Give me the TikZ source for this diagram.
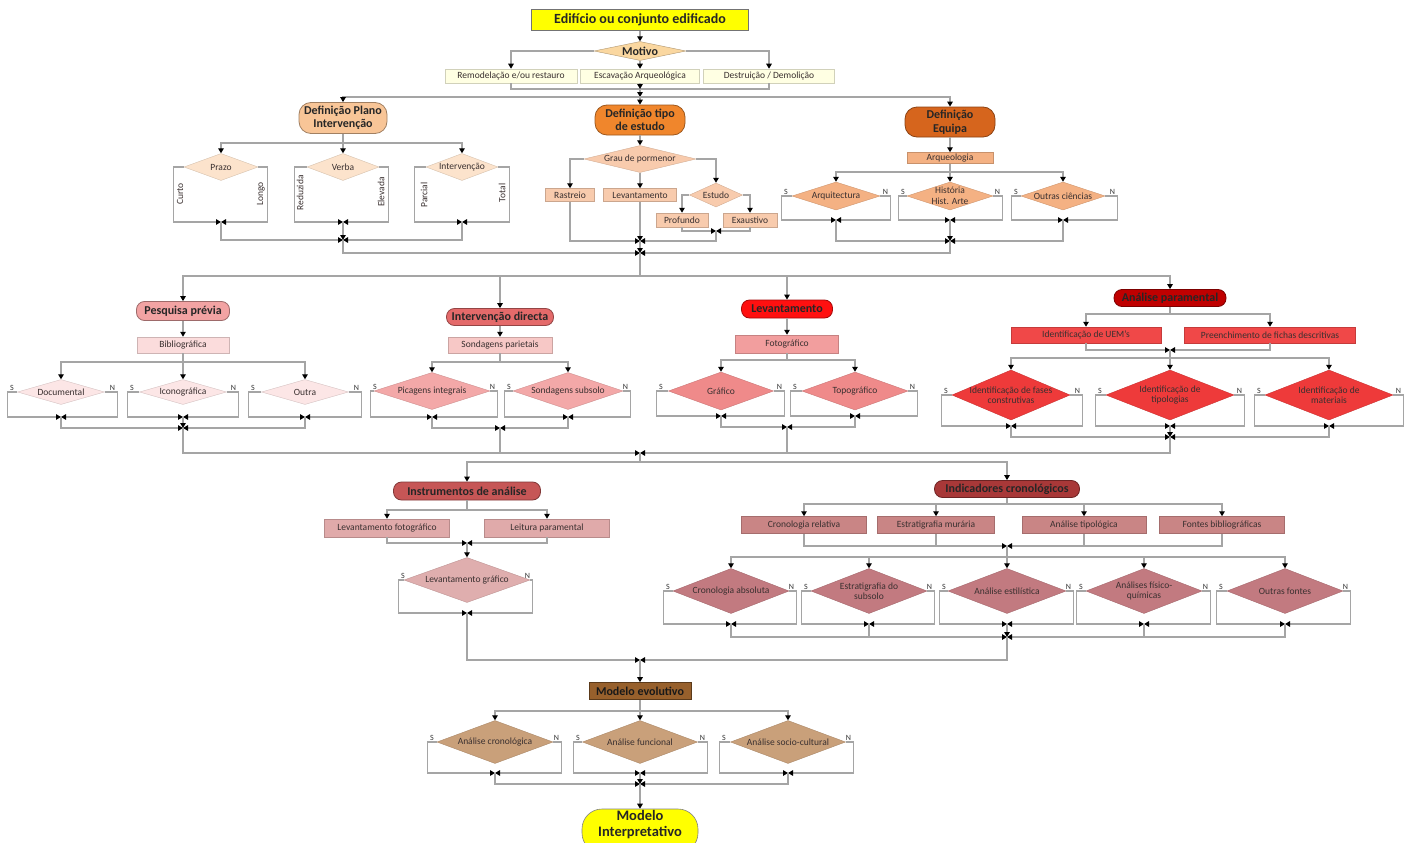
\documentclass[tikz,border=0pt]{standalone}
\usepackage{fontspec}
\setmainfont{Carlito}
\usetikzlibrary{arrows.meta,shapes.geometric,shapes.misc}
\definecolor{lc}{HTML}{A5A5A5}
\definecolor{tx}{HTML}{3A3030}
\definecolor{cYel}{HTML}{FFFF00}
\definecolor{cMot}{HTML}{FAD7A0}
\definecolor{cLY}{HTML}{FFFFE3}
\definecolor{cPla}{HTML}{F8C597}
\definecolor{cTip}{HTML}{F0862C}
\definecolor{cEqu}{HTML}{D6651D}
\definecolor{cPz}{HTML}{FCE3CC}
\definecolor{cGr}{HTML}{F8CBAD}
\definecolor{cArq}{HTML}{F4B183}
\definecolor{cPes}{HTML}{F2A3A3}
\definecolor{cBib}{HTML}{FBDCDC}
\definecolor{cDoc}{HTML}{FCE6E6}
\definecolor{cInt}{HTML}{E46A6A}
\definecolor{cSpa}{HTML}{F7C8C6}
\definecolor{cPic}{HTML}{F3A8A8}
\definecolor{cLev}{HTML}{FF1010}
\definecolor{cFot}{HTML}{F29E9E}
\definecolor{cGra}{HTML}{EF8A8A}
\definecolor{cAna}{HTML}{C00000}
\definecolor{cUem}{HTML}{F04848}
\definecolor{cFas}{HTML}{EE3A3A}
\definecolor{cIns}{HTML}{C65656}
\definecolor{cLf}{HTML}{E0AAAA}
\definecolor{cLg}{HTML}{DFAEAE}
\definecolor{cInd}{HTML}{A83838}
\definecolor{cCr}{HTML}{C98585}
\definecolor{cCa}{HTML}{C27A80}
\definecolor{cMe}{HTML}{97602C}
\definecolor{cAc}{HTML}{C9A07A}
\tikzset{
  ln/.style={draw=lc,line width=1.2pt},
  ar/.style={ln,-{Triangle[length=5pt,width=5.5pt,color=black]}},
  box/.style={rectangle,draw=#1!82!black,fill=#1,line width=0.5pt,inner sep=0.5pt,font=\fontsize{9.5pt}{11pt}\selectfont,text=tx},
  stad/.style={rectangle,rounded corners=8pt,draw=#1!65!black,fill=#1,line width=0.8pt,inner sep=0.5pt,font=\bfseries\fontsize{12pt}{13.5pt}\selectfont,text=black!85,align=center},
  dia/.style={diamond,draw=#1!85!black,fill=#1,line width=0.4pt,inner sep=0pt},
  dtx/.style={font=\fontsize{9.5pt}{10.5pt}\selectfont,text=tx,align=center,inner sep=0pt},
  snl/.style={font=\fontsize{8pt}{9pt}\selectfont,text=black!80,inner sep=0.5pt},
  rot/.style={font=\fontsize{9.5pt}{10pt}\selectfont,text=tx,rotate=90,inner sep=0pt},
}
\newcommand\dnode[7]{\node[dia=#6,minimum width=#4pt,minimum height=#5pt] (#1) at (#2,#3) {};\node[dtx] (#1-t) at (#1.center) {#7};}
\newcommand\frm[5]{\coordinate (#5) at (#1.center |- 0,#4);
  \draw[ar] (#1.west) -- ++(-#2,0) |- (#5);
  \draw[ar] (#1.east) -- ++(#3,0) |- (#5);}
\newcommand\SN[3]{\path (#1.west) ++(-#2+1.5,-1) node[snl,anchor=south west] (#1-s) {S};
  \path (#1.east) ++(#3-1.5,-1) node[snl,anchor=south east] (#1-n) {N};}
\begin{document}
\begin{tikzpicture}[x=1pt,y=-1pt]
\useasboundingbox (0,0) rectangle (1408,843);
\clip (0,0) rectangle (1408,843);
\fill[white] (0,0) rectangle (1408,843);
% ---------------- top
\node[rectangle,draw=black!55,fill=cYel,line width=0.6pt,minimum width=217pt,minimum height=21pt,inner sep=1pt,font=\bfseries\fontsize{14pt}{16pt}\selectfont,text=black!85] (T) at (640,20) {Edifício ou conjunto edificado};
\node[dia=cMot,minimum width=92pt,minimum height=19pt,draw=cMot!70!black] (M) at (640,51) {};
\node[font=\bfseries\fontsize{12pt}{13pt}\selectfont,text=black!85,inner sep=0pt] (M-t) at (M.center) {Motivo};
\node[box=cLY,minimum width=132pt,minimum height=14pt] (R1) at (511,76) {Remodelação e/ou restauro};
\node[box=cLY,minimum width=119pt,minimum height=14pt] (R2) at (640,76) {Escavação Arqueológica};
\node[box=cLY,minimum width=131pt,minimum height=14pt] (R3) at (769,76) {Destruição / Demolição};
\draw[ar] (T.south) -- (M.north);
\draw[ar] (M.west) -| (R1.north);
\draw[ar] (M.south) -- (R2.north);
\draw[ar] (M.east) -| (R3.north);
\coordinate (J1) at (640,89);
\coordinate (D1) at (640,97);
\draw[ln] (R1.south) |- (J1);
\draw[ln] (R3.south) |- (J1);
\draw[ar] (R2.south) -- (J1);
\draw[ar] (J1) -- (D1);
\node[stad=cPla,rounded corners=12pt,minimum width=88pt,minimum height=31pt] (plano) at (343,118) {Definição Plano\\Intervenção};
\node[stad=cTip,rounded corners=12pt,minimum width=90pt,minimum height=30pt] (tipo) at (640,120) {Definição tipo\\de estudo};
\node[stad=cEqu,rounded corners=12pt,minimum width=90pt,minimum height=30pt] (equipa) at (950,122) {Definição\\Equipa};
\draw[ar] (D1) -| (plano.north);
\draw[ar] (D1) -- (tipo.north);
\draw[ar] (D1) -| (equipa.north);
% ---------------- plano
\coordinate (P1) at (343,143);
\draw[ln] (plano.south) -- (P1);
\dnode{prazo}{221}{167}{74}{27}{cPz}{Prazo}
\dnode{verba}{343}{167}{72}{27}{cPz}{Verba}
\dnode{intv}{462}{167}{72}{27}{cPz}{Intervenção}
\draw[ar] (P1) -| (prazo.north);
\draw[ar] (P1) -- (verba.north);
\draw[ar] (P1) -| (intv.north);
\frm{prazo}{10}{9}{222}{pj1}
\frm{verba}{12}{9}{222}{pj2}
\frm{intv}{11}{11}{222}{pj3}
\node[rot] (lc1) at (180,194) {Curto};
\node[rot] (lc2) at (261,194) {Longo};
\node[rot] (lc3) at (300,193) {Reduzida};
\node[rot] (lc4) at (381,192) {Elevada};
\node[rot] (lc5) at (424,195) {Parcial};
\node[rot] (lc6) at (502,193) {Total};
\coordinate (pJ) at (343,240);
\draw[ar] (pj1) |- (pJ);
\draw[ar] (pj2) -- (pJ);
\draw[ar] (pj3) |- (pJ);
\coordinate (mJ) at (640,253);
\draw[ar] (pJ) |- (mJ);
% ---------------- tipo
\dnode{grau}{640}{159}{112}{27}{cGr}{Grau de pormenor}
\draw[ar] (tipo.south) -- (grau.north);
\node[box=cGr,minimum width=49pt,minimum height=13pt] (rast) at (570,195) {Rastreio};
\node[box=cGr,minimum width=73pt,minimum height=13pt] (levt) at (640,195) {Levantamento};
\dnode{estudo}{716}{195}{53}{24}{cGr}{Estudo}
\draw[ar] (grau.west) -| (rast.north);
\draw[ar] (grau.south) -- (levt.north);
\draw[ar] (grau.east) -| (estudo.north);
\node[box=cGr,minimum width=52pt,minimum height=14pt] (prof) at (682,220) {Profundo};
\node[box=cGr,minimum width=54pt,minimum height=14pt] (exau) at (750,220) {Exaustivo};
\draw[ar] (estudo.west) -| (prof.north);
\draw[ar] (estudo.east) -| (exau.north);
\coordinate (tj1) at (716,231);
\draw[ar] (prof.south) |- (tj1);
\draw[ar] (exau.south) |- (tj1);
\coordinate (tJ) at (640,241);
\draw[ar] (rast.south) |- (tJ);
\draw[ar] (levt.south) -- (tJ);
\draw[ar] (tj1) |- (tJ);
\draw[ar] (tJ) -- (mJ);
% ---------------- equipa
\node[box=cArq,minimum width=86pt,minimum height=11pt] (arq) at (950,158) {Arqueologia};
\draw[ar] (equipa.south) -- (arq.north);
\coordinate (E1) at (950,172);
\draw[ln] (arq.south) -- (E1);
\dnode{arquit}{836}{196}{88}{28}{cArq}{Arquitectura}
\dnode{hist}{950}{196}{86}{28}{cArq}{História\\Hist. Arte}
\dnode{outc}{1063}{196}{84}{28}{cArq}{Outras ciências}
\draw[ar] (E1) -| (arquit.north);
\draw[ar] (E1) -- (hist.north);
\draw[ar] (E1) -| (outc.north);
\frm{arquit}{10}{10}{220}{ej1}\SN{arquit}{10}{10}
\frm{hist}{8}{9}{220}{ej2}\SN{hist}{8}{9}
\frm{outc}{9}{12}{220}{ej3}\SN{outc}{9}{12}
\coordinate (eJ) at (950,241);
\draw[ar] (ej1) |- (eJ);
\draw[ar] (ej2) -- (eJ);
\draw[ar] (ej3) |- (eJ);
\draw[ar] (eJ) |- (mJ);
% ---------------- middle row
\coordinate (D2) at (640,276);
\draw[ln] (mJ) -- (D2);
\node[stad=cPes,minimum width=93pt,minimum height=19pt] (pesq) at (183,311) {Pesquisa prévia};
\node[stad=cInt,minimum width=107pt,minimum height=17pt] (intd) at (500,317) {Intervenção directa};
\node[stad=cLev,minimum width=91pt,minimum height=18pt] (levs) at (787,309) {Levantamento};
\node[stad=cAna,minimum width=112pt,minimum height=17pt] (anap) at (1170,298) {Análise paramental};
\draw[ar] (D2) -| (pesq.north);
\draw[ar] (D2) -| (intd.north);
\draw[ar] (D2) -| (levs.north);
\draw[ar] (D2) -| (anap.north);
% pesquisa
\node[box=cBib,minimum width=92pt,minimum height=16pt] (bibl) at (183,345) {Bibliográfica};
\draw[ar] (pesq.south) -- (bibl.north);
\coordinate (B1) at (183,362);
\draw[ln] (bibl.south) -- (B1);
\dnode{doc}{61}{392}{87}{25}{cDoc}{Documental}
\dnode{icon}{183}{392}{87}{25}{cDoc}{Iconográfica}
\dnode{outr}{305}{392}{87}{25}{cDoc}{Outra}
\draw[ar] (B1) -| (doc.north);
\draw[ar] (B1) -- (icon.north);
\draw[ar] (B1) -| (outr.north);
\frm{doc}{9.5}{12.5}{417}{bj1}\SN{doc}{9.5}{12.5}
\frm{icon}{11.5}{11.5}{417}{bj2}\SN{icon}{11.5}{11.5}
\frm{outr}{12.5}{12.5}{417}{bj3}\SN{outr}{12.5}{12.5}
\coordinate (bJ) at (183,428);
\draw[ar] (bj1) |- (bJ);
\draw[ar] (bj2) -- (bJ);
\draw[ar] (bj3) |- (bJ);
% intervencao
\node[box=cSpa,minimum width=104pt,minimum height=16pt] (spar) at (500,345) {Sondagens parietais};
\draw[ar] (intd.south) -- (spar.north);
\coordinate (I1) at (500,362);
\draw[ln] (spar.south) -- (I1);
\dnode{picag}{432}{391}{116}{37}{cPic}{Picagens integrais}
\dnode{ssub}{568}{391}{110}{37}{cPic}{Sondagens subsolo}
\draw[ar] (I1) -| (picag.north);
\draw[ar] (I1) -| (ssub.north);
\frm{picag}{3}{7}{417}{ij1}\SN{picag}{3}{7}
\frm{ssub}{8}{7}{417}{ij2}\SN{ssub}{8}{7}
\coordinate (iJ) at (500,428);
\draw[ar] (ij1) |- (iJ);
\draw[ar] (ij2) |- (iJ);
% levantamento
\node[box=cFot,minimum width=103pt,minimum height=18pt] (foto) at (787,344) {Fotográfico};
\draw[ar] (levs.south) -- (foto.north);
\coordinate (L1) at (787,360);
\draw[ln] (foto.south) -- (L1);
\dnode{graf}{721}{391}{105}{38}{cGra}{Gráfico}
\dnode{topo}{855}{391}{106}{38}{cGra}{Topográfico}
\draw[ar] (L1) -| (graf.north);
\draw[ar] (L1) -| (topo.north);
\frm{graf}{11.5}{10.5}{416}{lj1}\SN{graf}{11.5}{10.5}
\frm{topo}{11}{9}{416}{lj2}\SN{topo}{11}{9}
\coordinate (lJ) at (787,427);
\draw[ar] (lj1) |- (lJ);
\draw[ar] (lj2) |- (lJ);
% analise paramental
\coordinate (A1) at (1170,314);
\draw[ln] (anap.south) -- (A1);
\node[box=cUem,minimum width=150pt,minimum height=16pt] (uem) at (1086,335) {Identificação de UEM's};
\node[box=cUem,minimum width=171pt,minimum height=16pt] (fich) at (1270,335) {Preenchimento de fichas descritivas};
\draw[ar] (A1) -| (uem.north);
\draw[ar] (A1) -| (fich.north);
\coordinate (aj0) at (1170,350);
\draw[ar] (uem.south) |- (aj0);
\draw[ar] (fich.south) |- (aj0);
\coordinate (A2) at (1170,358);
\draw[ln] (aj0) -- (A2);
\dnode{fases}{1011}{395}{118}{50}{cFas}{Identificação de fases\\construtivas}
\dnode{tipol}{1170}{395}{128}{50}{cFas}{Identificação de\\tipologias}
\dnode{mater}{1329}{395}{128}{50}{cFas}{Identificação de\\materiais}
\draw[ar] (A2) -| (fases.north);
\draw[ar] (A2) -- (tipol.north);
\draw[ar] (A2) -| (mater.north);
\frm{fases}{10}{12}{426}{aj1}\SN{fases}{10}{12}
\frm{tipol}{10}{10}{426}{aj2}\SN{tipol}{10}{10}
\frm{mater}{10}{10}{426}{aj3}\SN{mater}{10}{10}
\coordinate (aJ) at (1170,437);
\draw[ar] (aj1) |- (aJ);
\draw[ar] (aj2) -- (aJ);
\draw[ar] (aj3) |- (aJ);
% join at cJ
\coordinate (cJ) at (640,453);
\draw[ar] (bJ) |- (cJ);
\draw[ln] (iJ) -- (iJ |- cJ);
\draw[ln] (lJ) -- (lJ |- cJ);
\draw[ar] (aJ) |- (cJ);
\coordinate (D3) at (640,462);
\draw[ln] (cJ) -- (D3);
% ---------------- instrumentos
\node[stad=cIns,minimum width=147pt,minimum height=18pt] (inst) at (467,491) {Instrumentos de análise};
\node[stad=cInd,minimum width=145pt,minimum height=17pt] (indc) at (1007,489) {Indicadores cronológicos};
\draw[ar] (D3) -| (inst.north);
\draw[ar] (D3) -| (indc.north);
\coordinate (N1) at (467,510);
\draw[ln] (inst.south) -- (N1);
\node[box=cLf,minimum width=125pt,minimum height=18pt] (lfot) at (387,528) {Levantamento fotográfico};
\node[box=cLf,minimum width=125pt,minimum height=18pt] (lpar) at (547,528) {Leitura paramental};
\draw[ar] (N1) -| (lfot.north);
\draw[ar] (N1) -| (lpar.north);
\coordinate (nj) at (467,543);
\draw[ar] (lfot.south) |- (nj);
\draw[ar] (lpar.south) |- (nj);
\dnode{lgra}{467}{580}{126}{45}{cLg}{Levantamento gráfico}
\draw[ar] (nj) -- (lgra.north);
\frm{lgra}{5}{2}{613}{nj2}\SN{lgra}{5}{2}
% ---------------- indicadores
\coordinate (K1) at (1007,504);
\draw[ln] (indc.south) -- (K1);
\node[box=cCr,minimum width=125pt,minimum height=17pt] (crel) at (804,525) {Cronologia relativa};
\node[box=cCr,minimum width=117pt,minimum height=17pt] (estm) at (936,525) {Estratigrafia murária};
\node[box=cCr,minimum width=124pt,minimum height=17pt] (anat) at (1084,525) {Análise tipológica};
\node[box=cCr,minimum width=125pt,minimum height=17pt] (font) at (1222,525) {Fontes bibliográficas};
\draw[ar] (K1) -| (crel.north);
\draw[ar] (K1) -| (estm.north);
\draw[ar] (K1) -| (anat.north);
\draw[ar] (K1) -| (font.north);
\coordinate (kj) at (1007,546);
\draw[ar] (crel.south) |- (kj);
\draw[ln] (estm.south) -- (estm.south |- kj);
\draw[ln] (anat.south) -- (anat.south |- kj);
\draw[ar] (font.south) |- (kj);
\coordinate (K2) at (1007,557);
\draw[ln] (kj) -- (K2);
\dnode{cabs}{731}{591}{116}{45}{cCa}{Cronologia absoluta}
\dnode{esub}{869}{591}{116}{45}{cCa}{Estratigrafia do\\subsolo}
\dnode{aest}{1007}{591}{118}{45}{cCa}{Análise estilística}
\dnode{afq}{1144}{591}{116}{45}{cCa}{Análises físico-\\químicas}
\dnode{outf}{1285}{591}{116}{45}{cCa}{Outras fontes}
\draw[ar] (K2) -| (cabs.north);
\draw[ar] (K2) -| (esub.north);
\draw[ar] (K2) -- (aest.north);
\draw[ar] (K2) -| (afq.north);
\draw[ar] (K2) -| (outf.north);
\frm{cabs}{9}{7}{624}{kj1}\SN{cabs}{9}{7}
\frm{esub}{9}{7}{624}{kj2}\SN{esub}{9}{7}
\frm{aest}{8}{7}{624}{kj3}\SN{aest}{8}{7}
\frm{afq}{9}{8}{624}{kj4}\SN{afq}{9}{8}
\frm{outf}{10}{7}{624}{kj5}\SN{outf}{10}{7}
\coordinate (kJ) at (1007,637);
\draw[ar] (kj1) |- (kJ);
\draw[ln] (kj2) -- (kj2 |- kJ);
\draw[ar] (kj3) -- (kJ);
\draw[ln] (kj4) -- (kj4 |- kJ);
\draw[ar] (kj5) |- (kJ);
% ---------------- modelo
\coordinate (fJ) at (640,660);
\draw[ar] (nj2) |- (fJ);
\draw[ar] (kJ) |- (fJ);
\node[rectangle,draw=cMe!60!black,fill=cMe,line width=0.6pt,minimum width=102pt,minimum height=17pt,inner sep=0.5pt,font=\bfseries\fontsize{12pt}{13pt}\selectfont,text=black!90] (mevo) at (640,691) {Modelo evolutivo};
\draw[ar] (fJ) -- (mevo.north);
\coordinate (V1) at (640,711);
\draw[ln] (mevo.south) -- (V1);
\dnode{acro}{495}{742}{116}{43}{cAc}{Análise cronológica}
\dnode{afun}{640}{742}{115}{43}{cAc}{Análise funcional}
\dnode{asoc}{788}{742}{115}{43}{cAc}{Análise socio-cultural}
\draw[ar] (V1) -| (acro.north);
\draw[ar] (V1) -- (afun.north);
\draw[ar] (V1) -| (asoc.north);
\frm{acro}{9}{8}{773}{vj1}\SN{acro}{9}{8}
\frm{afun}{8.5}{9.5}{773}{vj2}\SN{afun}{8.5}{9.5}
\frm{asoc}{10.5}{7.5}{773}{vj3}\SN{asoc}{10.5}{7.5}
\coordinate (vJ) at (640,784);
\draw[ar] (vj1) |- (vJ);
\draw[ar] (vj2) -- (vJ);
\draw[ar] (vj3) |- (vJ);
\node[rectangle,rounded corners=20pt,draw=black!50,fill=cYel,line width=0.6pt,minimum width=116pt,minimum height=44pt,inner sep=1pt] (mint) at (640,831) {};
\node[font=\bfseries\fontsize{14.5pt}{16pt}\selectfont,text=black!85,align=center,inner sep=0pt] (mint-t) at (640,825) {Modelo\\Interpretativo};
\draw[ar] (vJ) -- (mint.north);
\end{tikzpicture}
\end{document}
